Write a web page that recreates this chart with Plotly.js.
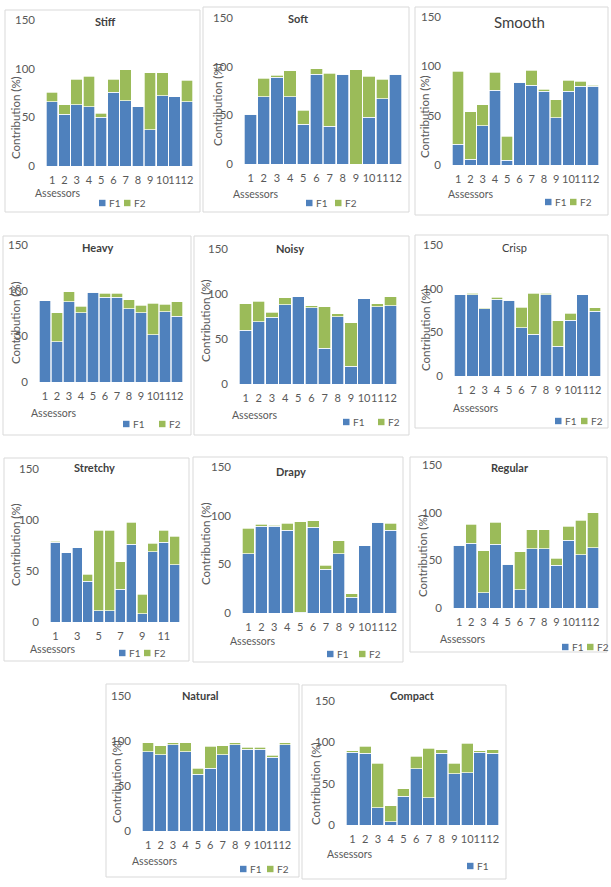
<!DOCTYPE html>
<html><head><meta charset="utf-8">
<script src="https://cdn.plot.ly/plotly-3.0.1.min.js"></script>
<style>html,body{margin:0;padding:0;background:#fff;}#chart{width:611px;height:887px;}</style>
</head><body><div id="chart"></div>
<script>
// ---------- data ----------
const assessors = ['1','2','3','4','5','6','7','8','9','10','11','12'];
const seriesNames = ['F1', 'F2'];
const yTickVals = [0, 50, 100, 150];

const stiffF1    = [66, 53, 63, 61, 50, 76, 67, 61, 37, 72, 71, 66];
const stiffF2    = [10, 10, 26, 31,  4, 13, 32,  0, 59, 24,  0, 22];
const softF1     = [51, 69, 89, 69, 41, 92, 39, 92,  0, 48, 67, 92];
const softF2     = [ 0, 19,  2, 27, 14,  6, 54,  0, 97, 42, 20,  0];
const smoothF1   = [21,  6, 40, 76,  5, 84, 81, 75, 48, 75, 80, 80];
const smoothF2   = [74, 48, 21, 18, 24,  0, 15,  2, 18, 11,  5,  1];
const heavyF1    = [89, 44, 88, 76, 98, 93, 93, 80, 76, 52, 77, 72];
const heavyF2    = [ 0, 32, 11,  7,  0,  4,  4, 10,  8, 34,  8, 16];
const noisyF1    = [60, 69, 74, 88, 97, 85, 40, 75, 20, 95, 86, 87];
const noisyF2    = [29, 23,  6,  8,  0,  2, 46,  3, 48,  0,  3, 10];
const crispF1    = [93, 93, 77, 88, 87, 55, 48, 93, 34, 64, 93, 74];
const crispF2    = [ 0,  2,  1,  2,  0, 24, 47,  2, 29,  8,  0,  4];
const stretchyF1 = [78, 68, 73, 40, 11, 11, 32, 76,  8, 69, 78, 56];
const stretchyF2 = [ 1,  0,  0,  7, 79, 79, 27, 22, 19,  8, 12, 28];
const drapyF1    = [61, 89, 89, 85,  1, 88, 45, 61, 16, 69, 93, 85];
const drapyF2    = [26,  2,  1,  7, 93,  7,  4, 13,  4,  0,  0,  7];
const regularF1  = [66, 68, 16, 67, 46, 19, 62, 62, 45, 71, 56, 63];
const regularF2  = [ 0, 20, 44, 23,  0, 40, 20, 20,  7, 15, 36, 37];
const naturalF1  = [88, 85, 96, 88, 63, 70, 85, 96, 91, 91, 82, 96];
const naturalF2  = [10, 10,  2, 10,  7, 24, 10,  2,  2,  2,  2,  2];
const compactF1  = [88, 87, 21,  4, 35, 68, 33, 87, 62, 63, 88, 87];
const compactF2  = [ 2,  8, 54, 19,  9, 15, 60,  4, 13, 36,  2,  4];
const oddAssessors = ['1','3','5','7','9','11'];

// ---------- layout of the panels (pixels) ----------
const W = 611, H = 887;
const BLUE = '#4F81BD', GREEN = '#9BBB59', GREY = '#595959', DARK = '#404040', BORDER = '#D9D9D9';
const FONT = 'Lato, "Liberation Sans", Arial, sans-serif';

const panels = [
  {name:'Stiff',    f1:stiffF1,    f2:stiffF2,    box:[5,10,200,212],   plot:[46,193,20,166],   title:[106,22],  tstyle:'bold',  ytitle:[16,118],  assess:[33,193],  leg:[99,124,203],  ticks:assessors},
  {name:'Soft',     f1:softF1,     f2:softF2,     box:[203,7,409,212],  plot:[244,402,18,164],  title:[298,18],  tstyle:'bold',  ytitle:[217,105], assess:[231,194], leg:[306,335,203], ticks:assessors},
  {name:'Smooth',   f1:smoothF1,   f2:smoothF2,   box:[415,7,608,215],  plot:[452,599,17,165],  title:[519,22],  tstyle:'big',   ytitle:[425,117], assess:[446,194], leg:[545,570,202], ticks:assessors},
  {name:'Heavy',    f1:heavyF1,    f2:heavyF2,    box:[3,236,191,435],  plot:[39,183,245,382],  title:[97,247],  tstyle:'bold',  ytitle:[15,323],  assess:[29,413],  leg:[123,159,424], ticks:assessors},
  {name:'Noisy',    f1:noisyF1,    f2:noisyF2,    box:[194,236,409,435],plot:[239,397,249,384], title:[290,248], tstyle:'bold',  ytitle:[205,320], assess:[230,415], leg:[343,378,422], ticks:assessors},
  {name:'Crisp',    f1:crispF1,    f2:crispF2,    box:[415,235,608,428],plot:[454,601,245,376], title:[514,247], tstyle:'plain', ytitle:[425,330], assess:[451,408], leg:[555,581,421], ticks:assessors},
  {name:'Stretchy', f1:stretchyF1, f2:stretchyF2, box:[4,458,189,661],  plot:[50,180,469,622],  title:[94,468],  tstyle:'bold',  ytitle:[15,545],  assess:[28,649],  leg:[119,144,653], ticks:oddAssessors},
  {name:'Drapy',    f1:drapyF1,    f2:drapyF2,    box:[193,457,403,662],plot:[242,397,467,613], title:[291,471], tstyle:'bold',  ytitle:[205,543], assess:[228,641], leg:[327,359,654], ticks:assessors},
  {name:'Regular',  f1:regularF1,  f2:regularF2,  box:[410,457,607,652],plot:[453,599,465,608], title:[510,468], tstyle:'bold',  ytitle:[422,556], assess:[438,639], leg:[562,587,647], ticks:assessors},
  {name:'Natural',  f1:naturalF1,  f2:naturalF2,  box:[106,684,299,877],plot:[142,291,696,831], title:[200,695], tstyle:'bold',  ytitle:[116,782], assess:[130,861], leg:[240,267,869], ticks:assessors},
  {name:'Compact',  f1:compactF1,  f2:compactF2,  box:[302,685,506,879],plot:[346,499,701,825], title:[412,695], tstyle:'bold',  ytitle:[315,784], assess:[325,854], leg:[467,null,866], ticks:assessors}
];

const px = x => x / W;
const py = y => 1 - y / H;

const traces = [];
const layout = {
  width: W, height: H,
  margin: {l:0, r:0, t:0, b:0},
  paper_bgcolor: '#FFFFFF', plot_bgcolor: 'rgba(0,0,0,0)',
  barmode: 'stack', bargap: 0.07,
  showlegend: false,
  font: {family: FONT, color: GREY, size: 11},
  shapes: [], annotations: []
};

panels.forEach((p, i) => {
  const n = i === 0 ? '' : String(i + 1);
  const xa = 'x' + n, ya = 'y' + n;
  [p.f1, p.f2].forEach((vals, k) => {
    traces.push({
      type: 'bar', x: assessors, y: vals, name: seriesNames[k],
      xaxis: xa, yaxis: ya, showlegend: false,
      marker: {color: k === 0 ? BLUE : GREEN, line: {color: '#FFFFFF', width: 0.7}},
      hovertemplate: p.name + ' – ' + seriesNames[k] + ' – assessor %{x}: %{y}%<extra></extra>'
    });
  });
  layout['xaxis' + n] = {
    domain: [px(p.plot[0]), px(p.plot[1])], anchor: ya, type: 'category',
    range: [-0.5, 11.5], tickmode: 'array', tickvals: p.ticks, ticktext: p.ticks,
    tickangle: 0, automargin: false,
    showgrid: false, zeroline: false, showline: false, ticks: '',
    tickfont: {size: 11, color: GREY, family: FONT}, ticklabelstandoff: 6, fixedrange: true
  };
  layout['yaxis' + n] = {
    domain: [py(p.plot[3]), py(p.plot[2])], anchor: xa,
    range: [0, 150], tickmode: 'array', tickvals: yTickVals, automargin: false,
    showgrid: false, zeroline: false, showline: false, ticks: '',
    tickfont: {size: 11.5, color: GREY, family: FONT}, ticklabelstandoff: 10, fixedrange: true
  };
  // panel frame
  layout.shapes.push({type:'rect', xref:'paper', yref:'paper',
    x0: px(p.box[0]), x1: px(p.box[2]), y0: py(p.box[3]), y1: py(p.box[1]),
    line:{color: BORDER, width: 1}, fillcolor:'rgba(0,0,0,0)', layer:'below'});
  // title
  let ttext = p.name, tsize = 11;
  if (p.tstyle === 'bold') ttext = '<b>' + p.name + '</b>';
  if (p.tstyle === 'big') tsize = 15;
  layout.annotations.push({xref:'paper', yref:'paper', x: px(p.title[0]), y: py(p.title[1]),
    xanchor:'center', yanchor:'middle', showarrow:false, text: ttext,
    font:{size: tsize, color: DARK, family: FONT}});
  // y title
  layout.annotations.push({xref:'paper', yref:'paper', x: px(p.ytitle[0]), y: py(p.ytitle[1]),
    xanchor:'center', yanchor:'middle', showarrow:false, text:'Contribution (%)', textangle:-90,
    font:{size: 11.5, color: GREY, family: FONT}});
  // x title
  layout.annotations.push({xref:'paper', yref:'paper', x: px(p.assess[0]), y: py(p.assess[1]),
    xanchor:'left', yanchor:'middle', showarrow:false, text:'Assessors',
    font:{size: 10.5, color: GREY, family: FONT}});
  // legend
  [p.leg[0], p.leg[1]].forEach((sx, k) => {
    if (sx === null) return;
    const sy = p.leg[2];
    layout.shapes.push({type:'rect', xref:'paper', yref:'paper',
      x0: px(sx), x1: px(sx + 6.5), y0: py(sy + 3.2), y1: py(sy - 3.2),
      line:{width:0}, fillcolor: k === 0 ? BLUE : GREEN});
    layout.annotations.push({xref:'paper', yref:'paper', x: px(sx + 8), y: py(sy),
      xanchor:'left', yanchor:'middle', showarrow:false, text: seriesNames[k],
      font:{size: 10, color: GREY, family: FONT}});
  });
});

Plotly.newPlot('chart', traces, layout, {displayModeBar: false, responsive: false});
</script>
</body></html>
